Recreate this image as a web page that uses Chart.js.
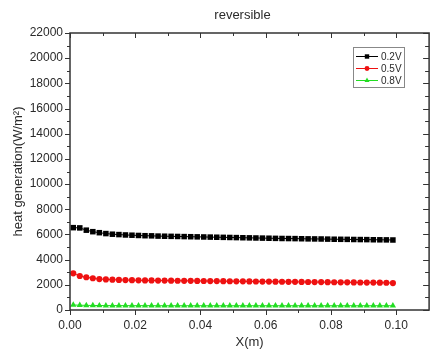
<!DOCTYPE html>
<html>
<head>
<meta charset="utf-8">
<script src="https://cdn.jsdelivr.net/npm/chart.js@4/dist/chart.umd.min.js"></script>
<style>
html,body{margin:0;padding:0;background:#fff;}
#wrap{width:433px;height:354px;}
</style>
</head>
<body>
<div id="wrap"><canvas id="c" width="433" height="354"></canvas></div>
<script>
// ---- data ----
const xValues = [0.001,0.003,0.005,0.007,0.009,0.011,0.013,0.015,0.017,0.019,
                 0.021,0.023,0.025,0.027,0.029,0.031,0.033,0.035,0.037,0.039,
                 0.041,0.043,0.045,0.047,0.049,0.051,0.053,0.055,0.057,0.059,
                 0.061,0.063,0.065,0.067,0.069,0.071,0.073,0.075,0.077,0.079,
                 0.081,0.083,0.085,0.087,0.089,0.091,0.093,0.095,0.097,0.099];
const v02 = [6540,6520,6340,6220,6140,6070,6020,5990,5960,5940,
             5920,5900,5890,5870,5860,5850,5840,5830,5820,5810,
             5800,5790,5780,5770,5760,5750,5740,5730,5720,5710,
             5700,5690,5680,5675,5670,5660,5650,5645,5640,5630,
             5620,5615,5610,5600,5595,5590,5580,5575,5570,5560];
const v05 = [2910,2700,2600,2520,2460,2430,2410,2390,2380,2370,
             2360,2350,2345,2340,2335,2330,2325,2320,2315,2310,
             2305,2300,2295,2290,2285,2280,2275,2270,2265,2260,
             2255,2250,2245,2240,2235,2230,2225,2220,2215,2210,
             2205,2200,2195,2190,2185,2180,2175,2170,2165,2140];
const v08 = [400,380,370,360,355,350,350,350,345,345,
             345,345,345,340,340,340,340,340,340,340,
             340,340,340,340,340,340,340,340,340,340,
             340,340,340,340,340,340,340,340,340,340,
             340,340,340,340,340,340,340,340,340,340];
const seriesNames = ['0.2V','0.5V','0.8V'];
const xTicks = [0,0.01,0.02,0.03,0.04,0.05,0.06,0.07,0.08,0.09,0.10];
const yTicks = [0,1000,2000,3000,4000,5000,6000,7000,8000,9000,10000,11000,
                12000,13000,14000,15000,16000,17000,18000,19000,20000,21000,22000];
const titleText = 'reversible';
const xTitle = 'X(m)';
const yTitle = 'heat generation(W/m\u00B2)';

// ---- chart ----
const FONT = '"Liberation Sans", Arial, sans-serif';
const TXT = '#2a2a2a';
const AX = '#333';
const toPts = arr => arr.map((v,i)=>({x:xValues[i], y:v}));

const frameTicks = {
  id:'frameTicks',
  afterLayout(chart){
    const t = chart.titleBlock;
    if (t){ t.left = 52; t.right = 433; }
  },
  afterDraw(chart){
    const {ctx, chartArea:{left,right,top,bottom}, scales:{x,y}} = chart;
    ctx.save();
    ctx.strokeStyle = AX;
    ctx.lineWidth = 1.5;
    ctx.strokeRect(left, top, right-left, bottom-top);
    ctx.lineWidth = 1;
    const ln = (a,b,c,d)=>{ctx.beginPath();ctx.moveTo(a,b);ctx.lineTo(c,d);ctx.stroke();};
    xTicks.forEach((v,i)=>{
      const px = Math.round(x.getPixelForValue(v))+0.5;
      const major = i%2===0;
      ln(px, bottom, px, bottom + (major?5:3));
      ln(px, top, px, top + (major?5:3));
    });
    yTicks.forEach(v=>{
      const py = Math.round(y.getPixelForValue(v))+0.5;
      const major = v%2000===0;
      ln(left-(major?5:3), py, left, py);
      ln(right-(major?6:4), py, right, py);
    });
    // legend
    const bx=353.5, by=47.5, bw=51, bh=40;
    ctx.strokeStyle='#888';
    ctx.lineWidth=1;
    ctx.strokeRect(bx,by,bw,bh);
    chart.data.datasets.forEach((ds,i)=>{
      const yy = 56.5 + i*12;
      ctx.strokeStyle = ds.borderColor;
      ctx.lineWidth = 1;
      ln(356, yy, 378, yy);
      ctx.fillStyle = ds.backgroundColor;
      ctx.strokeStyle = ds.borderColor;
      Chart.helpers.drawPoint(ctx, {pointStyle: ds.pointStyle, radius: ds.pointRadius*0.8, borderWidth: 0, rotation:0}, 367, yy);
      ctx.fillStyle = TXT;
      ctx.font = '10px ' + FONT;
      ctx.textBaseline = 'middle';
      ctx.textAlign = 'left';
      ctx.fillText(ds.label, 381, yy+0.5);
    });
    ctx.restore();
  }
};

const mk = (label, data, color, style, r) => ({
  label, data: toPts(data),
  borderColor: color, backgroundColor: color,
  borderWidth: 1, pointStyle: style, pointRadius: r, pointBorderWidth: 0,
  pointHoverRadius: r, tension: 0
});

new Chart(document.getElementById('c'), {
  type: 'line',
  data: {
    datasets: [
      mk(seriesNames[0], v02, '#000000', 'rect', 3.9),
      mk(seriesNames[1], v05, '#ee1111', 'circle', 3.1),
      mk(seriesNames[2], v08, '#22dd22', 'triangle', 3.6)
    ]
  },
  options: {
    responsive: false,
    devicePixelRatio: 1,
    animation: false,
    layout: { padding: { left: 0, right: -3, top: 0, bottom: 0 } },
    plugins: {
      legend: { display: false },
      tooltip: { enabled: false },
      title: {
        display: true, text: titleText, color: TXT,
        font: { family: FONT, size: 13, weight: 'normal' },
        padding: { top: 8, bottom: 9.4 }
      }
    },
    scales: {
      x: {
        type: 'linear', min: 0, max: 0.1101,
        afterBuildTicks: s => { s.ticks = xTicks.map(v => ({value: v})); },
        afterFit: s => { s.height = 44; },
        grid: { display: false, drawTicks: false },
        border: { display: false },
        ticks: {
          color: TXT, font: { family: FONT, size: 12 }, padding: 8, maxRotation: 0, autoSkip: false,
          callback: (v, i) => (i % 2 === 0 ? Number(v).toFixed(2) : '')
        },
        title: { display: true, text: xTitle, color: TXT, font: { family: FONT, size: 13 }, padding: { top: 0, bottom: 4 } }
      },
      y: {
        type: 'linear', min: 0, max: 22000,
        afterBuildTicks: s => { s.ticks = yTicks.filter(v => v % 2000 === 0).map(v => ({value: v})); },
        afterFit: s => { s.width = 70; },
        grid: { display: false, drawTicks: false },
        border: { display: false },
        ticks: { color: TXT, font: { family: FONT, size: 12 }, padding: 7, autoSkip: false,
          callback: v => String(v) },
        title: { display: true, text: yTitle, color: TXT, font: { family: FONT, size: 13 }, padding: { top: 11, bottom: 0 } }
      }
    }
  },
  plugins: [frameTicks]
});
</script>
</body>
</html>
